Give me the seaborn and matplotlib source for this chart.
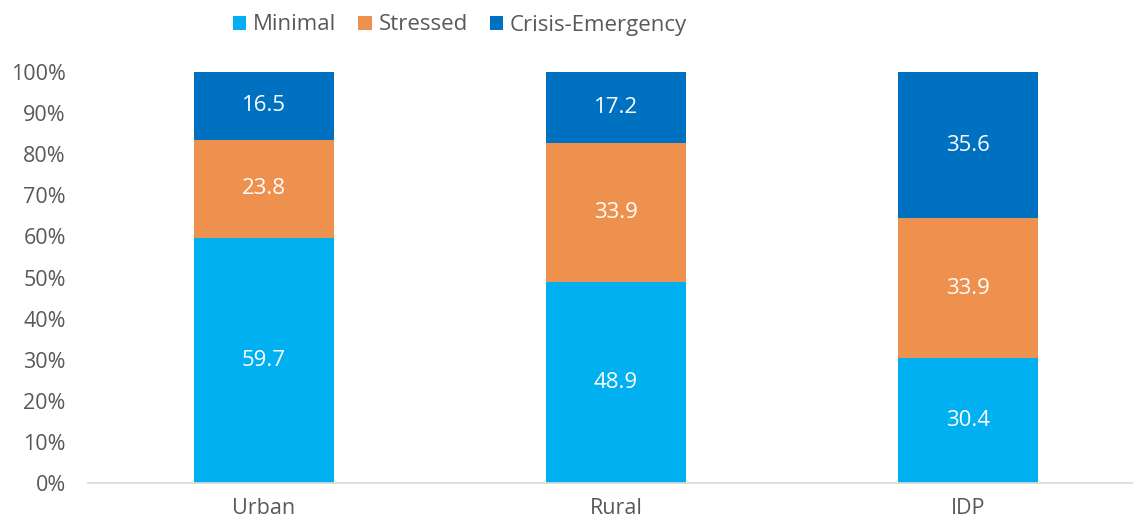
import matplotlib
matplotlib.use("Agg")
import matplotlib.pyplot as plt
from matplotlib.patches import Patch
from matplotlib.ticker import PercentFormatter
import seaborn as sns
import pandas as pd
import numpy as np

categories = ["Urban", "Rural", "IDP"]
series_names = ["Minimal", "Stressed", "Crisis-Emergency"]
minimal = [59.7, 48.9, 30.4]
stressed = [23.8, 33.9, 33.9]
crisis = [16.5, 17.2, 35.6]
colors = ["#00B0F0", "#EE914F", "#0070C0"]
y_ticks = [0, 10, 20, 30, 40, 50, 60, 70, 80, 90, 100]

sns.set_theme(style="white")
plt.rcParams["font.family"] = ["Open Sans", "DejaVu Sans"]

vals = np.array([minimal, stressed, crisis])
totals = vals.sum(axis=0)
shares = vals / totals * 100
cum = np.cumsum(shares, axis=0)

fig = plt.figure(figsize=(11.33, 5.24), dpi=100)
ax = fig.add_axes([88 / 1133, 41 / 524, 1056 / 1133, 411 / 524])

# draw back-to-front cumulative bars
for i in range(len(series_names) - 1, -1, -1):
    df = pd.DataFrame({"cat": categories, "val": cum[i]})
    sns.barplot(data=df, x="cat", y="val", order=categories, color=colors[i],
                width=0.4, saturation=1, ax=ax, linewidth=0)

# data labels
for i in range(len(series_names)):
    for j in range(len(categories)):
        base = cum[i][j] - shares[i][j]
        ax.text(j, base + shares[i][j] / 2, f"{vals[i][j]:.1f}", ha="center",
                va="center", color="white", fontsize=16)

ax.set_xlim(-0.5, 2.5)
ax.set_ylim(0, 100)
ax.set_yticks(y_ticks)
ax.yaxis.set_major_formatter(PercentFormatter(decimals=0))
ax.set_xlabel("")
ax.set_ylabel("")
ax.tick_params(axis="both", length=0, labelsize=15.5, colors="#595959")
ax.tick_params(axis="x", pad=11)
ax.tick_params(axis="y", pad=16)
for s in ["top", "right", "left"]:
    ax.spines[s].set_visible(False)
ax.spines["bottom"].set_color("#D9D9D9")
ax.spines["bottom"].set_linewidth(1.2)
ax.grid(False)

handles = [Patch(facecolor=c, edgecolor="none") for c in colors]
fig.legend(handles, series_names, loc="center", bbox_to_anchor=(460 / 1133, 1 - 25 / 524),
           ncol=3, frameon=False, fontsize=16, handlelength=0.6, handleheight=0.6,
           handletextpad=0.3, columnspacing=1.0, labelcolor="#595959")

fig.savefig("out.png", dpi=100)
